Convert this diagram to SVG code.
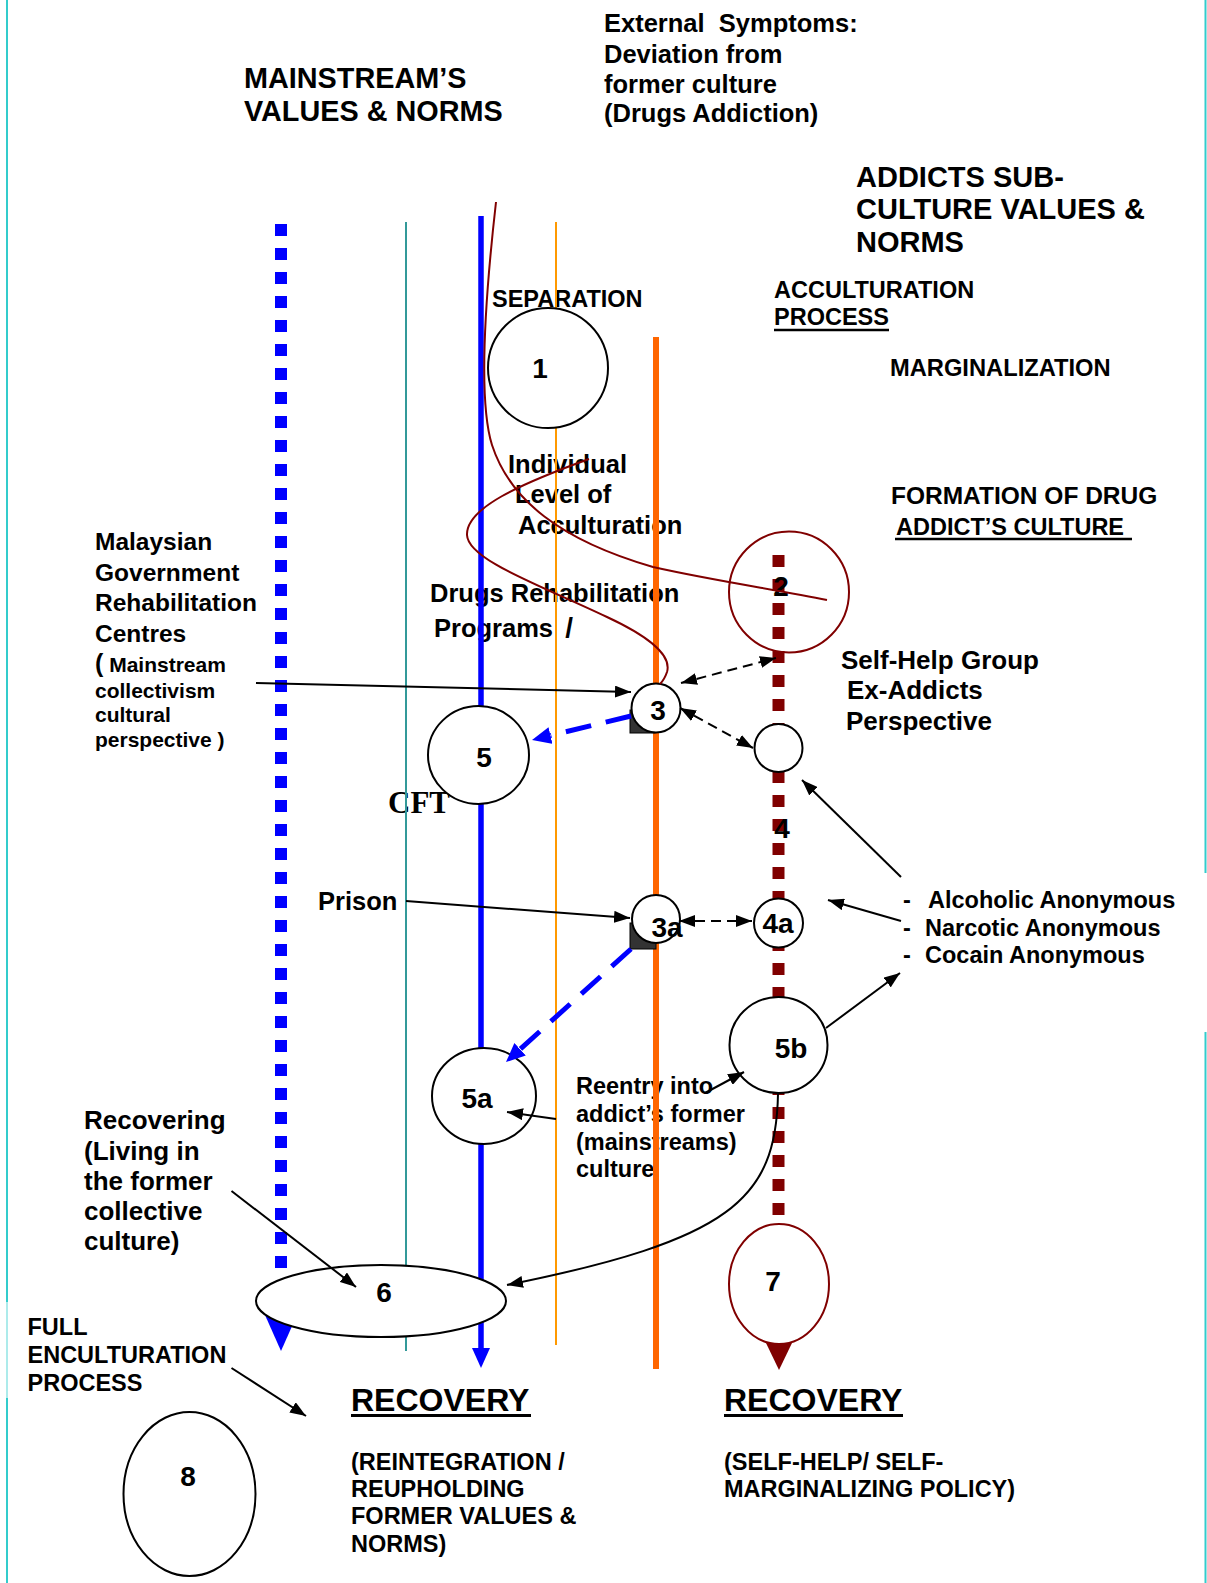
<svg xmlns="http://www.w3.org/2000/svg" width="1207" height="1583" viewBox="0 0 1207 1583">
  <style>
    text { font-family: "Liberation Sans", Arial, Helvetica, sans-serif; font-weight: bold; fill: #000; }
    .body { font-size: 25.5px; }
    .small { font-size: 23.5px; }
    .head { font-size: 29px; }
    .paren { font-size: 21px; }
    .rec { font-size: 32px; }
    .num { font-size: 28px; text-anchor: middle; }
    .cft { font-family: "Liberation Serif", "Times New Roman", serif; font-size: 31px; }
    .frame { stroke: #33CCCC; stroke-width: 2; }
    .uline { stroke: #000; stroke-width: 2.5; }
    .node { fill: #fff; stroke: #000; stroke-width: 2; }
    .node-red { fill: #fff; stroke: #800000; stroke-width: 2; }
    .conn { fill: none; stroke: #000; stroke-width: 2; }
    .dashed { stroke-dasharray: 10 6; }
    .blue-dash { fill: none; stroke: #0000FF; stroke-width: 5; stroke-dasharray: 26 15; }
    .trail { fill: none; stroke: #800000; stroke-width: 2; }
    .handle { fill: #333; stroke: #000; stroke-width: 1; }
  </style>
  <defs>
    <marker id="arrow" viewBox="0 0 16 12" refX="16" refY="6" markerWidth="16" markerHeight="12" markerUnits="userSpaceOnUse" orient="auto-start-reverse">
      <path d="M0,0 L16,6 L0,12 Z" fill="#000"/>
    </marker>
    <marker id="arrow-blue" viewBox="0 0 19 17" refX="0" refY="8.5" markerWidth="19" markerHeight="17" markerUnits="userSpaceOnUse" orient="auto">
      <path d="M0,0 L19,8.5 L0,17 Z" fill="#0000FF"/>
    </marker>
  </defs>

  <rect width="1207" height="1583" fill="#fff"/>

  <!-- page border -->
  <g id="frame">
    <line class="frame" x1="7" y1="0" x2="7" y2="1302"/>
    <line class="frame" x1="7" y1="1302" x2="7" y2="1398" stroke-opacity="0.4"/>
    <line class="frame" x1="7" y1="1398" x2="7" y2="1583"/>
    <line class="frame" x1="1205.5" y1="0" x2="1205.5" y2="873"/>
    <line class="frame" x1="1205.5" y1="1032" x2="1205.5" y2="1583"/>
  </g>

  <!-- headings and annotations -->
  <g id="labels">
    <text style="font-size:28.8px" x="244" y="88">MAINSTREAM’S</text>
    <text style="font-size:28.8px" x="244" y="121">VALUES &amp; NORMS</text>

    <text class="body" x="604" y="32" xml:space="preserve">External  Symptoms:</text>
    <text class="body" x="604" y="63">Deviation from</text>
    <text class="body" x="604" y="93">former culture</text>
    <text class="body" x="604" y="122">(Drugs Addiction)</text>

    <text class="head" x="856" y="187">ADDICTS SUB-</text>
    <text class="head" x="856" y="219">CULTURE VALUES &amp;</text>
    <text class="head" x="856" y="252">NORMS</text>

    <text class="small" x="492" y="307">SEPARATION</text>

    <text class="small" x="774" y="298">ACCULTURATION</text>
    <text class="small" x="774" y="325">PROCESS</text>
    <line class="uline" x1="774" y1="330" x2="889" y2="330"/>

    <text style="font-size:23.7px" x="890" y="376">MARGINALIZATION</text>

    <text style="font-size:24.5px" x="891" y="504">FORMATION OF DRUG</text>
    <text class="small" x="896" y="535">ADDICT’S CULTURE</text>
    <line class="uline" x1="895" y1="539" x2="1132" y2="539"/>

    <text class="body" x="508" y="473">Individual</text>
    <text class="body" x="515" y="503">Level of</text>
    <text class="body" x="518" y="534">Acculturation</text>

    <text class="body" x="430" y="602">Drugs Rehabilitation</text>
    <text class="body" x="434" y="637">Programs <tspan dx="5" style="font-size:28px">/</tspan></text>

    <text style="font-size:24.5px" x="95" y="550">Malaysian</text>
    <text style="font-size:24.5px" x="95" y="580.5">Government</text>
    <text style="font-size:24.5px" x="95" y="611">Rehabilitation</text>
    <text style="font-size:24.5px" x="95" y="641.5">Centres</text>
    <text class="paren" x="95" y="672"><tspan style="font-size:25px">(</tspan> Mainstream</text>
    <text class="paren" x="95" y="698">collectivism</text>
    <text class="paren" x="95" y="722">cultural</text>
    <text class="paren" x="95" y="747">perspective )</text>

    <text style="font-size:26px" x="841" y="669">Self-Help Group</text>
    <text style="font-size:26px" x="847" y="699">Ex-Addicts</text>
    <text style="font-size:26px" x="846" y="730">Perspective</text>

    <text class="cft" x="388" y="813">CFT</text>

    <text class="body" x="318" y="910">Prison</text>

    <text class="small" y="908"><tspan x="903">-</tspan><tspan x="928">Alcoholic Anonymous</tspan></text>
    <text class="small" y="936"><tspan x="903">-</tspan><tspan x="925">Narcotic Anonymous</tspan></text>
    <text class="small" y="963"><tspan x="903">-</tspan><tspan x="925">Cocain Anonymous</tspan></text>

    <text class="small" x="576" y="1094">Reentry into</text>
    <text class="small" x="576" y="1122">addict’s former</text>
    <text class="small" x="576" y="1149.5">(mainstreams)</text>
    <text class="small" x="576" y="1177">culture</text>

    <text style="font-size:26px" x="84" y="1129">Recovering</text>
    <text style="font-size:26px" x="84" y="1159.5">(Living in</text>
    <text style="font-size:26px" x="84" y="1189.5">the former</text>
    <text style="font-size:26px" x="84" y="1220">collective</text>
    <text style="font-size:26px" x="84" y="1250">culture)</text>

    <text class="small" x="27.5" y="1335">FULL</text>
    <text class="small" x="27.5" y="1363">ENCULTURATION</text>
    <text class="small" x="27.5" y="1391">PROCESS</text>

    <text class="rec" x="351" y="1411">RECOVERY</text>
    <line class="uline" x1="351" y1="1415.5" x2="531" y2="1415.5" style="stroke-width:3"/>
    <text class="small" x="351" y="1470">(REINTEGRATION /</text>
    <text class="small" x="351" y="1497">REUPHOLDING</text>
    <text class="small" x="351" y="1524">FORMER VALUES &amp;</text>
    <text class="small" x="351" y="1552">NORMS)</text>

    <text class="rec" x="724" y="1411">RECOVERY</text>
    <line class="uline" x1="724" y1="1415.5" x2="903" y2="1415.5" style="stroke-width:3"/>
    <text class="small" x="724" y="1470">(SELF-HELP/ SELF-</text>
    <text class="small" x="724" y="1497">MARGINALIZING POLICY)</text>
  </g>

  <!-- cultural value lanes -->
  <g id="lanes">
    <line x1="281" y1="224" x2="281" y2="1268" stroke="#0000FF" stroke-width="12" stroke-dasharray="12 12"/>
    <polygon points="265,1315 297,1315 281,1351" fill="#0000FF"/>
    <line x1="406" y1="222" x2="406" y2="1351" stroke="#339999" stroke-width="2"/>
    <line x1="481" y1="216" x2="481" y2="1350" stroke="#0000FF" stroke-width="5.5"/>
    <polygon points="472,1348 490,1348 481,1368" fill="#0000FF"/>
    <line x1="556" y1="222" x2="556" y2="1345" stroke="#FF9900" stroke-width="2"/>
    <line x1="656" y1="337" x2="656" y2="1369" stroke="#FF6600" stroke-width="6"/>
    <line x1="778.5" y1="555" x2="778.5" y2="1215" stroke="#800000" stroke-width="12" stroke-dasharray="12 12"/>
    <polygon points="766,1343 792,1343 779,1370" fill="#800000"/>
  </g>

  <!-- stages -->
  <g id="node-1">
    <circle class="node" cx="548" cy="368" r="60"/>
    <text class="num" x="540" y="378">1</text>
  </g>
  <g id="node-2">
    <ellipse cx="789" cy="592" rx="60" ry="60.5" fill="none" stroke="#800000" stroke-width="2"/>
    <text class="num" x="781" y="596">2</text>
  </g>
  <g id="node-3">
    <rect class="handle" x="630" y="710" width="25" height="23"/>
    <circle class="node" cx="656" cy="708" r="24.5"/>
    <text class="num" x="658" y="720">3</text>
  </g>
  <g id="node-4">
    <circle class="node" cx="778.5" cy="748" r="24"/>
    <text class="num" x="782" y="838">4</text>
  </g>
  <g id="node-3a">
    <rect class="handle" x="630" y="923" width="26" height="26"/>
    <circle class="node" cx="656" cy="919" r="24"/>
    <text class="num" x="667" y="937">3a</text>
  </g>
  <g id="node-4a">
    <circle class="node" cx="778.5" cy="923" r="24.5"/>
    <text class="num" x="778" y="933">4a</text>
  </g>
  <g id="node-5">
    <ellipse class="node" cx="478.5" cy="755" rx="50.5" ry="49"/>
    <text class="num" x="484" y="767">5</text>
  </g>
  <g id="node-5a">
    <ellipse class="node" cx="484" cy="1096" rx="52" ry="48"/>
    <text class="num" x="477" y="1108">5a</text>
  </g>
  <g id="node-5b">
    <ellipse class="node" cx="778.5" cy="1045" rx="49" ry="48"/>
    <text class="num" x="791" y="1058">5b</text>
  </g>
  <g id="node-6">
    <ellipse class="node" cx="381" cy="1301" rx="125" ry="36"/>
    <text class="num" x="384" y="1302">6</text>
  </g>
  <g id="node-7">
    <ellipse class="node-red" cx="779" cy="1284" rx="50" ry="60"/>
    <text class="num" x="773" y="1291">7</text>
  </g>
  <g id="node-8">
    <ellipse class="node" cx="189.5" cy="1494" rx="66" ry="82"/>
    <text class="num" x="188" y="1486">8</text>
  </g>

  <!-- connectors -->
  <g id="connectors">
    <!-- individual acculturation trail -->
    <path class="trail" d="M496,202 C486,290 478,400 492,445 C510,500 560,540 653,567 C720,582 780,590 827,600"/>
    <path class="trail" d="M589,459 C520,484 466,508 467,535 C468,560 540,585 607,617 C650,637 672,655 667,672 C665,678 662,682 660,684"/>

    <path class="conn" d="M256,683 L631,692" marker-end="url(#arrow)"/>
    <path class="blue-dash" d="M631,716 L550.5,735.5" marker-end="url(#arrow-blue)"/>
    <path class="conn dashed" d="M681,683 L776,658" marker-start="url(#arrow)" marker-end="url(#arrow)"/>
    <path class="conn dashed" d="M680,708 L753,748" marker-start="url(#arrow)" marker-end="url(#arrow)"/>
    <path class="conn" d="M901,877 L802,780" marker-end="url(#arrow)"/>
    <path class="conn" d="M901,921 L828,900" marker-end="url(#arrow)"/>
    <path class="conn" d="M826,1028 L900,973" marker-end="url(#arrow)"/>
    <path class="conn" d="M406,901 L630,918" marker-end="url(#arrow)"/>
    <path class="conn dashed" d="M679,921 L752,921" marker-start="url(#arrow)" marker-end="url(#arrow)"/>
    <path class="blue-dash" d="M631,949 L520.1,1049.3" marker-end="url(#arrow-blue)"/>
    <path class="conn" d="M556,1119 L507,1112" marker-end="url(#arrow)"/>
    <path class="conn" d="M705,1093 L744,1072" marker-end="url(#arrow)"/>
    <path class="conn" d="M778,1094 C776,1200 730,1240 507,1285" marker-end="url(#arrow)"/>
    <path class="conn" d="M231.5,1191 L356,1287" marker-end="url(#arrow)"/>
    <path class="conn" d="M231.5,1368 L306,1416" marker-end="url(#arrow)"/>
  </g>
</svg>
